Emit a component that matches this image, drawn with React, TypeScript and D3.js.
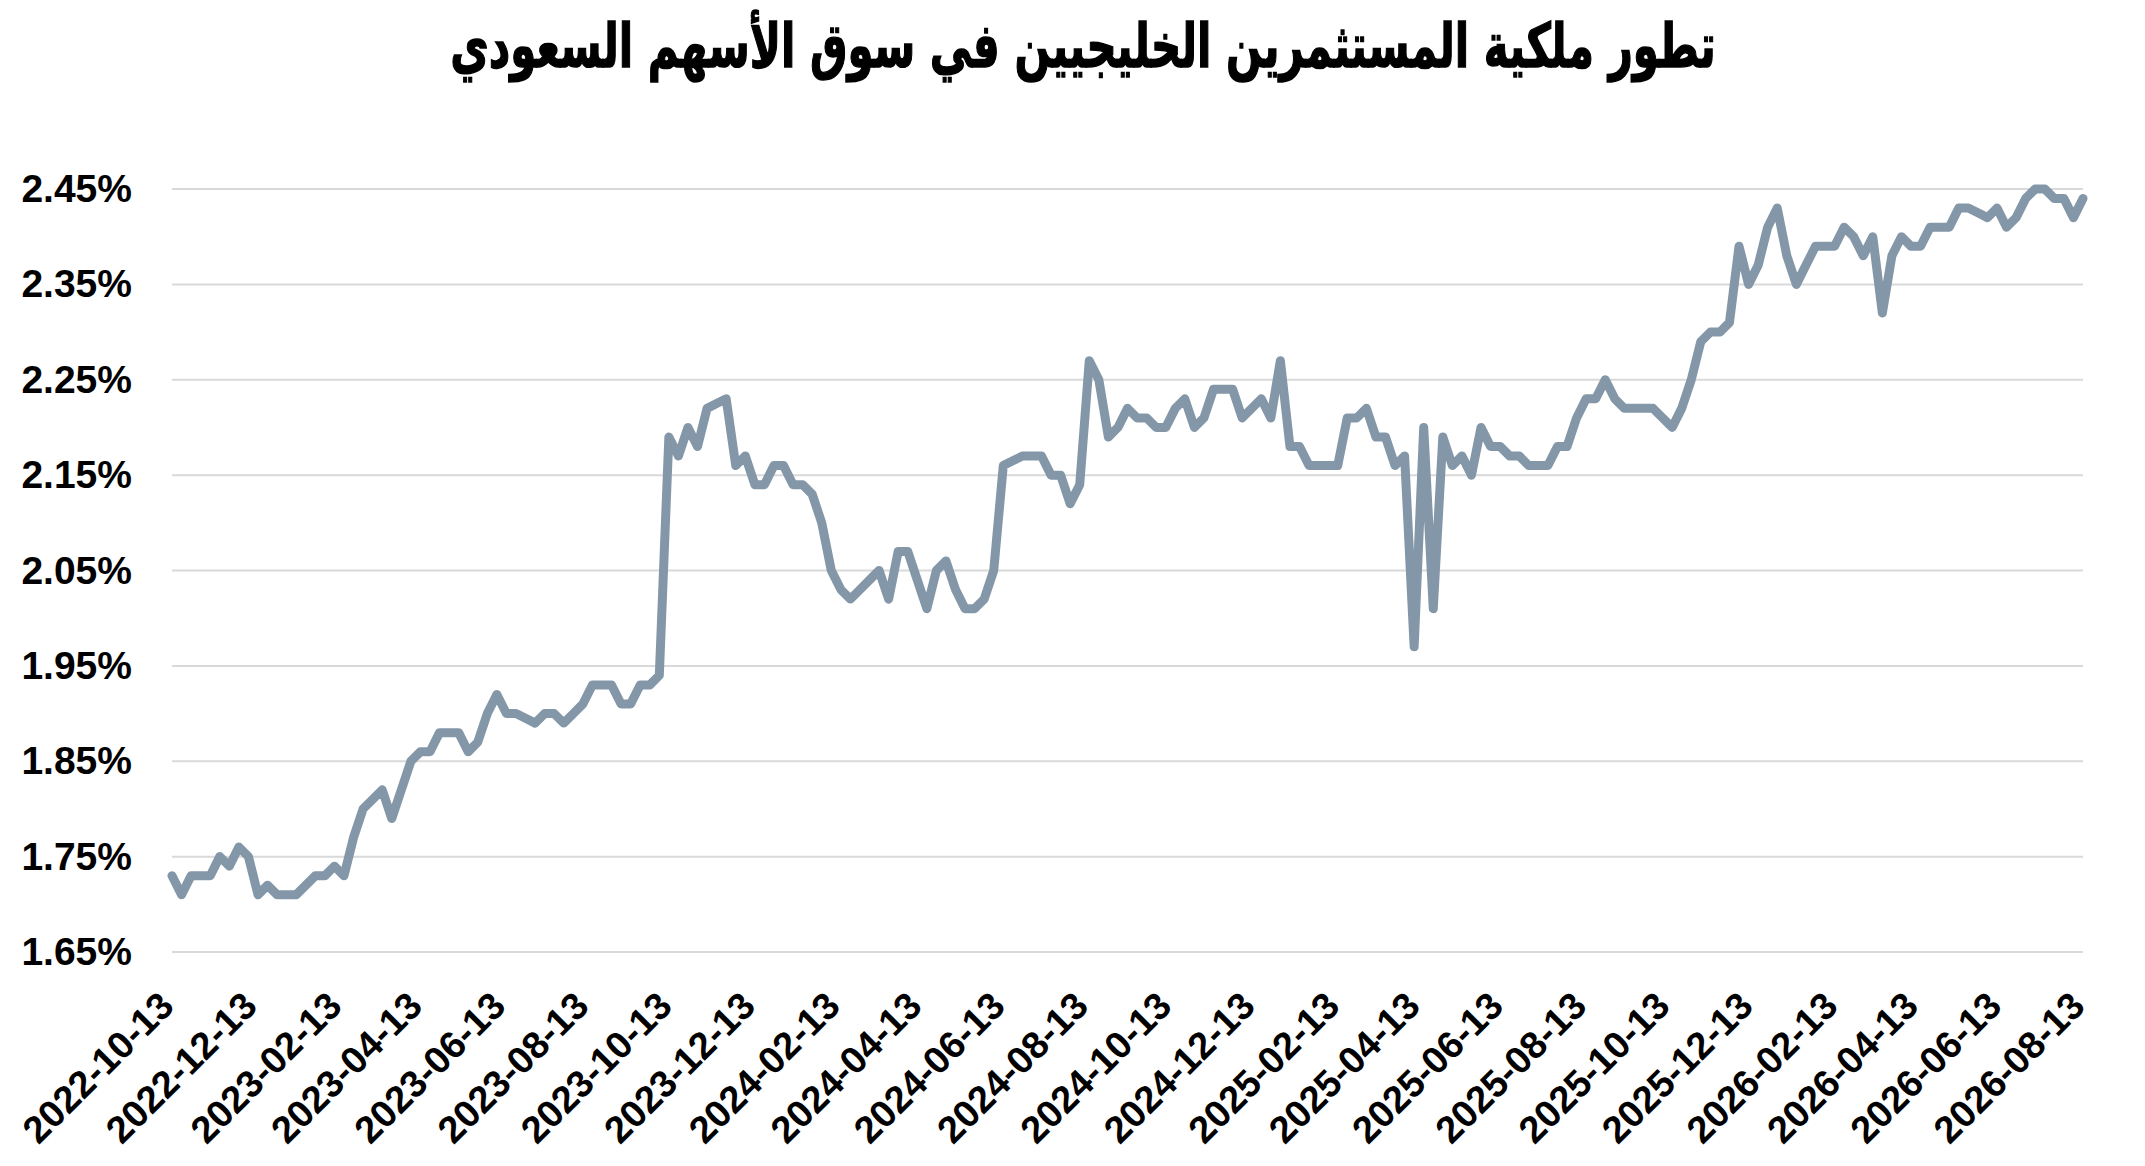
import { useEffect, useRef } from 'react'
import * as d3 from 'd3'

// Weekly readings, first point on 2022-10-13
const START_DATE = '2022-10-13'
const END_DATE = '2026-08-13'

const OWNERSHIP = [
  1.73, 1.71, 1.73, 1.73, 1.73, 1.75, 1.74, 1.76, 1.75, 1.71,
  1.72, 1.71, 1.71, 1.71, 1.72, 1.73, 1.73, 1.74, 1.73, 1.77,
  1.80, 1.81, 1.82, 1.79, 1.82, 1.85, 1.86, 1.86, 1.88, 1.88,
  1.88, 1.86, 1.87, 1.90, 1.92, 1.90, 1.90, 1.895, 1.89, 1.90,
  1.90, 1.89, 1.90, 1.91, 1.93, 1.93, 1.93, 1.91, 1.91, 1.93,
  1.93, 1.94, 2.19, 2.17, 2.20, 2.18, 2.22, 2.225, 2.23, 2.16,
  2.17, 2.14, 2.14, 2.16, 2.16, 2.14, 2.14, 2.13, 2.10, 2.05,
  2.03, 2.02, 2.03, 2.04, 2.05, 2.02, 2.07, 2.07, 2.04, 2.01,
  2.05, 2.06, 2.03, 2.01, 2.01, 2.02, 2.05, 2.16, 2.165, 2.17,
  2.17, 2.17, 2.15, 2.15, 2.12, 2.14, 2.27, 2.25, 2.19, 2.20,
  2.22, 2.21, 2.21, 2.20, 2.20, 2.22, 2.23, 2.20, 2.21, 2.24,
  2.24, 2.24, 2.21, 2.22, 2.23, 2.21, 2.27, 2.18, 2.18, 2.16,
  2.16, 2.16, 2.16, 2.21, 2.21, 2.22, 2.19, 2.19, 2.16, 2.17,
  1.97, 2.20, 2.01, 2.19, 2.16, 2.17, 2.15, 2.20, 2.18, 2.18,
  2.17, 2.17, 2.16, 2.16, 2.16, 2.18, 2.18, 2.21, 2.23, 2.23,
  2.25, 2.23, 2.22, 2.22, 2.22, 2.22, 2.21, 2.20, 2.22, 2.25,
  2.29, 2.30, 2.30, 2.31, 2.39, 2.35, 2.37, 2.41, 2.43, 2.38,
  2.35, 2.37, 2.39, 2.39, 2.39, 2.41, 2.40, 2.38, 2.40, 2.32,
  2.38, 2.40, 2.39, 2.39, 2.41, 2.41, 2.41, 2.43, 2.43, 2.425,
  2.42, 2.43, 2.41, 2.42, 2.44, 2.45, 2.45, 2.44, 2.44, 2.42,
  2.44,
]

const Y_TICKS = [1.65, 1.75, 1.85, 1.95, 2.05, 2.15, 2.25, 2.35, 2.45]

const X_TICK_LABELS = [
  '2022-10-13', '2022-12-13', '2023-02-13', '2023-04-13', '2023-06-13', '2023-08-13',
  '2023-10-13', '2023-12-13', '2024-02-13', '2024-04-13', '2024-06-13', '2024-08-13',
  '2024-10-13', '2024-12-13', '2025-02-13', '2025-04-13', '2025-06-13', '2025-08-13',
  '2025-10-13', '2025-12-13', '2026-02-13', '2026-04-13', '2026-06-13', '2026-08-13',
]

const TITLE = 'تطور ملكية المستثمرين الخليجيين في سوق الأسهم السعودي'

export default function App() {
  const svgRef = useRef<SVGSVGElement>(null)

  useEffect(() => {
    if (!svgRef.current) return
    const width = 2145
    const height = 1166
    const left = 172
    const right = 2083
    const top = 189
    const bottom = 952
    const font = '"Liberation Sans", Arial, sans-serif'

    const parse = d3.utcParse('%Y-%m-%d')
    const start = parse(START_DATE) as Date
    const end = parse(END_DATE) as Date

    const data = OWNERSHIP.map((v, i) => ({ date: d3.utcDay.offset(start, i * 7), value: v }))

    const x = d3.scaleUtc().domain([start, end]).range([left, right])
    const y = d3.scaleLinear().domain([1.65, 2.45]).range([bottom, top])

    const svg = d3.select(svgRef.current)
    svg.selectAll('*').remove()
    svg.attr('width', width).attr('height', height)

    svg.append('rect').attr('width', width).attr('height', height).attr('fill', '#ffffff')

    // Title (heavy, condensed look of the original)
    svg.append('text')
      .attr('transform', 'translate(1083,67) scale(0.84,1.22)')
      .attr('text-anchor', 'middle')
      .attr('direction', 'rtl')
      .attr('font-family', '"DejaVu Sans", "Noto Sans", sans-serif')
      .attr('font-weight', 'bold')
      .attr('font-size', 50)
      .attr('fill', '#000')
      .attr('stroke', '#000')
      .attr('stroke-width', 1.2)
      .text(TITLE)

    // Gridlines
    svg.append('g')
      .selectAll('line')
      .data(Y_TICKS)
      .join('line')
      .attr('x1', left)
      .attr('x2', right)
      .attr('y1', (d) => y(d))
      .attr('y2', (d) => y(d))
      .attr('stroke', '#d9d9d9')
      .attr('stroke-width', 2)

    // Y labels
    svg.append('g')
      .selectAll('text')
      .data(Y_TICKS)
      .join('text')
      .attr('x', 132)
      .attr('y', (d) => y(d) + 13)
      .attr('text-anchor', 'end')
      .attr('font-family', font)
      .attr('font-weight', 'bold')
      .attr('font-size', 39)
      .attr('fill', '#000')
      .text((d) => `${d.toFixed(2)}%`)

    // X labels
    svg.append('g')
      .selectAll('text')
      .data(X_TICK_LABELS)
      .join('text')
      .attr('transform', (d) => `translate(${x(parse(d) as Date) + 4},1008) rotate(-45)`)
      .attr('text-anchor', 'end')
      .attr('font-family', font)
      .attr('font-weight', 'bold')
      .attr('font-size', 38)
      .attr('fill', '#000')
      .text((d) => d)

    // Line
    const line = d3.line<{ date: Date; value: number }>()
      .x((d) => x(d.date))
      .y((d) => y(d.value))

    svg.append('path')
      .datum(data)
      .attr('d', line)
      .attr('fill', 'none')
      .attr('stroke', '#8497a9')
      .attr('stroke-width', 9)
      .attr('stroke-linejoin', 'round')
      .attr('stroke-linecap', 'round')
  }, [])

  return (
    <svg
      ref={svgRef}
      style={{ position: 'absolute', left: 0, top: 0, display: 'block' }}
    />
  )
}
